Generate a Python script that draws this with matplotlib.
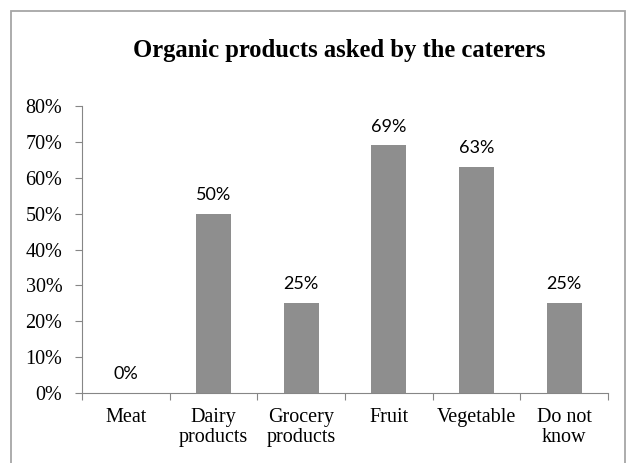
import matplotlib.pyplot as plt
from matplotlib.patches import Rectangle

categories = ["Meat", "Dairy\nproducts", "Grocery\nproducts", "Fruit", "Vegetable", "Do not\nknow"]
shares = [0, 50, 25, 69, 63, 25]
y_ticks = [0, 10, 20, 30, 40, 50, 60, 70, 80]

fig = plt.figure(figsize=(6.3, 4.63), dpi=100)
fig.patches.append(Rectangle((11 / 630, -0.05), 614 / 630, 1.05 - 11 / 463,
                             transform=fig.transFigure, fill=False,
                             edgecolor="#a6a6a6", linewidth=1.3))

ax = fig.add_axes([0.130, 0.151, 0.835, 0.620])
x = range(len(categories))
bars = ax.bar(x, shares, width=0.40, color="#8e8e8e", zorder=3)

for bar, val in zip(bars, shares):
    ax.annotate(f"{val}%", (bar.get_x() + bar.get_width() / 2, bar.get_height()),
                xytext=(0, 10), textcoords="offset points", ha="center", va="baseline",
                fontsize=13, family="Lato")

ax.set_xlim(-0.5, len(categories) - 0.5)
ax.set_ylim(0, 80)
ax.set_yticks(y_ticks)
ax.set_yticklabels([f"{t}%" for t in y_ticks], family="Liberation Serif", fontsize=14.5)
ax.set_xticks([i - 0.5 for i in range(len(categories) + 1)])
ax.set_xticklabels([])
ax.set_xticks(list(x), minor=True)
ax.set_xticklabels(categories, minor=True, family="Liberation Serif", fontsize=14.5,
                   linespacing=1.05)
ax.tick_params(axis="x", which="minor", length=0, pad=11)
ax.tick_params(axis="x", which="major", length=5, color="#868686", direction="out")
ax.tick_params(axis="y", length=5, color="#868686", direction="out", pad=9)

for side in ["top", "right"]:
    ax.spines[side].set_visible(False)
for side in ["left", "bottom"]:
    ax.spines[side].set_color("#868686")

fig.text(339 / 630, 1 - 57 / 463, "Organic products asked by the caterers",
         ha="center", va="baseline", fontsize=17.7, fontweight="bold",
         family="Liberation Serif")

fig.savefig("out.png", dpi=100)
